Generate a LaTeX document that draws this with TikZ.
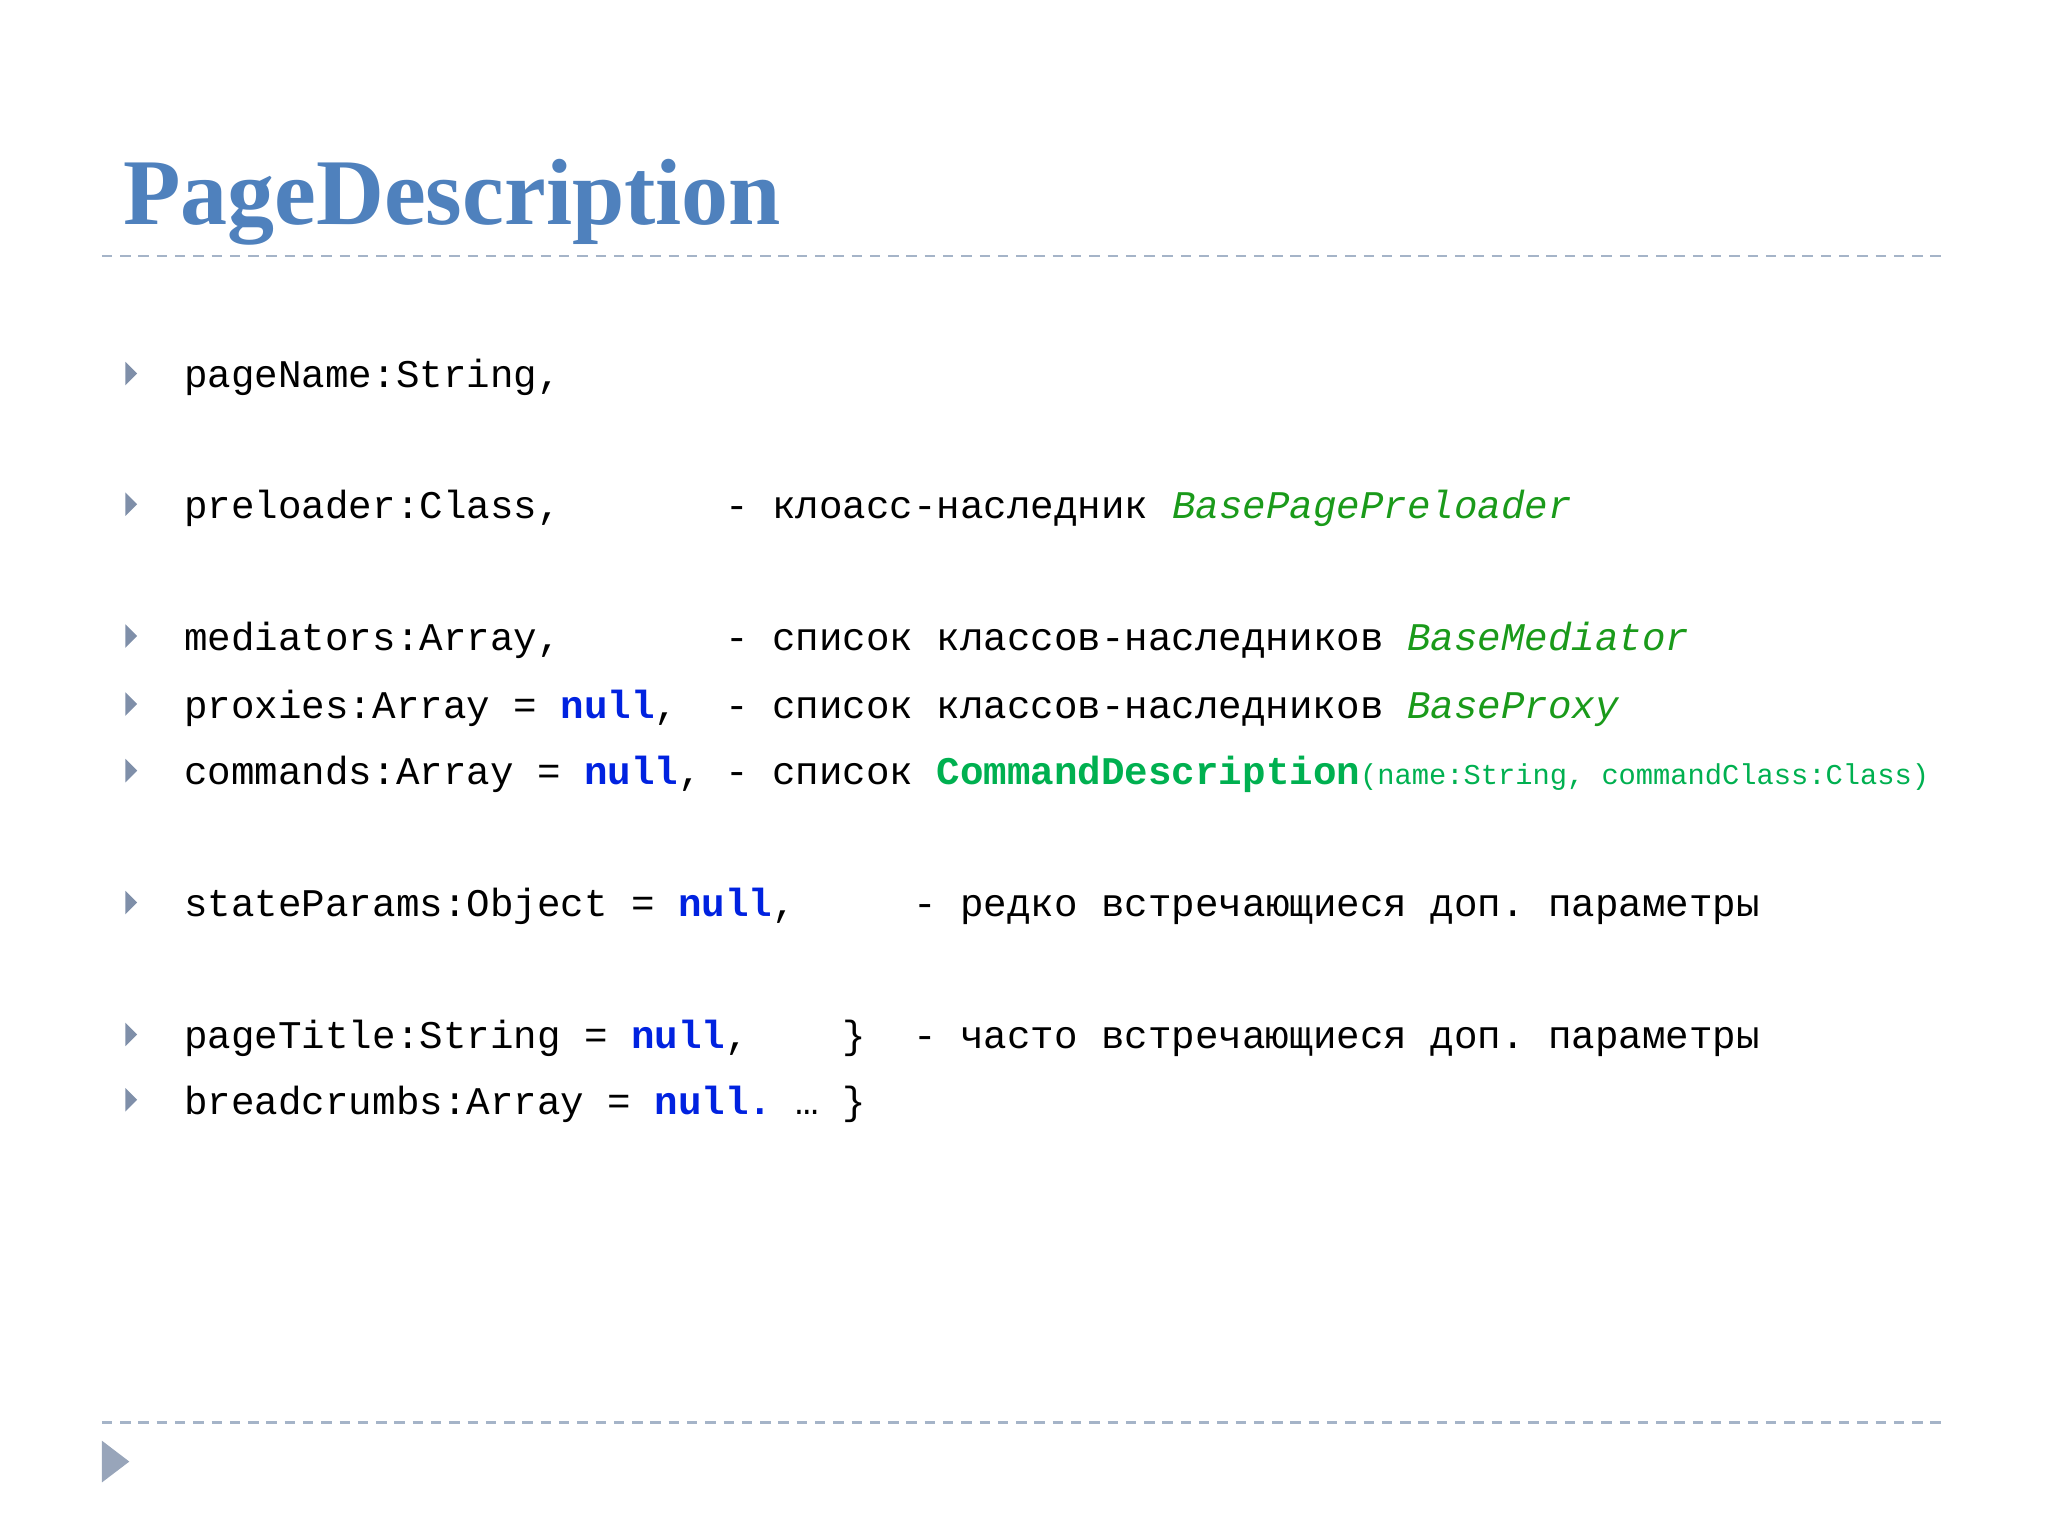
\documentclass[tikz,border=0pt]{standalone}
\usepackage{fontspec}
\setmainfont{Liberation Serif}
\setmonofont{Liberation Mono}
\definecolor{ttl}{HTML}{4F81BD}
\definecolor{nul}{HTML}{0022E0}
\definecolor{grn}{HTML}{1A9A1A}
\definecolor{grb}{HTML}{00B050}
\definecolor{bul}{HTML}{7F8FA9}
\definecolor{dsh}{HTML}{A5B4C8}
\newcommand{\nl}{\textbf{\color{nul}null}}
\newcommand{\gi}[1]{\textit{\color{grn}#1}}
\begin{document}
\begin{tikzpicture}[x=1pt,y=-1pt,
  code/.style={anchor=base west,inner sep=0pt,font=\fontsize{30}{36}\selectfont\ttfamily},
  bull/.style={fill=bul}]
\useasboundingbox (0,0) rectangle (1568,1176);
\node[anchor=base west,inner sep=0pt,font=\fontsize{72}{80}\selectfont\bfseries,text=ttl] (title) at (94,172) {PageDescription};
\draw[dsh,line width=2pt,dash pattern=on 8pt off 6pt] (78,196) -- (1490,196);
\draw[dsh,line width=2pt,dash pattern=on 8pt off 6pt] (78,1089) -- (1490,1089);
\fill[bul!80] (78,1103) -- (99,1119) -- (78,1135) -- cycle;
\foreach \y in {286,386,487,539,590,691,792,842}
  \fill[bul] (96,\y-9) -- (105,\y) -- (96,\y+9) -- cycle;
\node[code] (l1) at (141,297) {pageName:String,};
\node[code] (l2) at (141,397) {preloader:Class,\ \ \ \ \ \ \ - клоасс-наследник \gi{BasePagePreloader}};
\node[code] (l3) at (141,498) {mediators:Array,\ \ \ \ \ \ \ - список классов-наследников \gi{BaseMediator}};
\node[code] (l4) at (141,550) {proxies:Array = \nl,\ \ - список классов-наследников \gi{BaseProxy}};
\node[code] (l5) at (141,601) {commands:Array = \nl, - список \textbf{\color{grb}CommandDescription}{\color{grb}\fontsize{22}{26}\selectfont(name:String, commandClass:Class)}};
\node[code] (l6) at (141,702) {stateParams:Object = \nl,\ \ \ \ \ - редко встречающиеся доп. параметры};
\node[code] (l7) at (141,803) {pageTitle:String = \nl,\ \ \ \ \}\ \ - часто встречающиеся доп. параметры};
\node[code] (l8) at (141,853) {breadcrumbs:Array = \textbf{\color{nul}null.} … \}};
\end{tikzpicture}
\end{document}
